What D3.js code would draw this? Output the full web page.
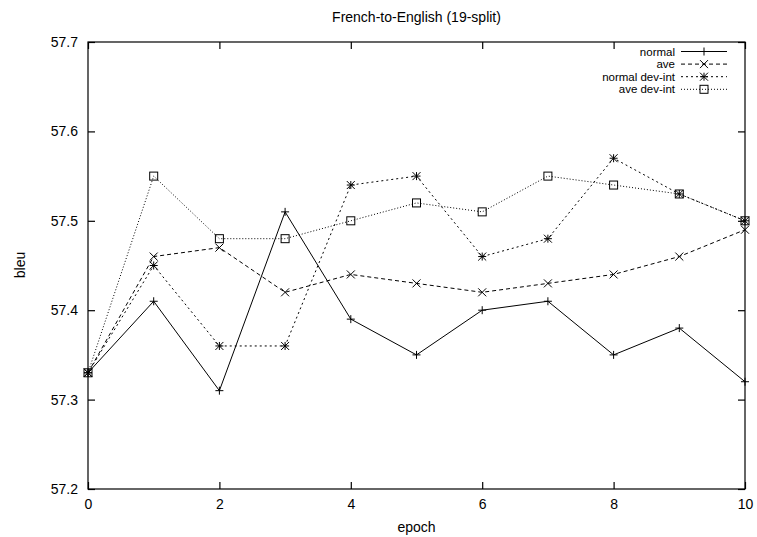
<!DOCTYPE html>
<html>
<head>
<meta charset="utf-8">
<script src="https://cdn.jsdelivr.net/npm/d3@7"></script>
<style>
  html, body { margin: 0; padding: 0; background: #fff; }
  svg { display: block; }
  text { font-family: "Liberation Sans", Arial, Helvetica, sans-serif; fill: #000; }
</style>
</head>
<body>
<svg id="chart" width="757" height="537"></svg>
<script>
const epochs = [0, 1, 2, 3, 4, 5, 6, 7, 8, 9, 10];
const normal      = [57.33, 57.41, 57.31, 57.51, 57.39, 57.35, 57.40, 57.41, 57.35, 57.38, 57.32];
const ave         = [57.33, 57.46, 57.47, 57.42, 57.44, 57.43, 57.42, 57.43, 57.44, 57.46, 57.49];
const normalDevInt= [57.33, 57.45, 57.36, 57.36, 57.54, 57.55, 57.46, 57.48, 57.57, 57.53, 57.50];
const aveDevInt   = [57.33, 57.55, 57.48, 57.48, 57.50, 57.52, 57.51, 57.55, 57.54, 57.53, 57.50];
const seriesNames = ["normal", "ave", "normal dev-int", "ave dev-int"];
const xTicks = [0, 2, 4, 6, 8, 10];
const yTicks = [57.2, 57.3, 57.4, 57.5, 57.6, 57.7];
const title = "French-to-English (19-split)";
const xLabel = "epoch";
const yLabel = "bleu";

const series = [
  { name: seriesNames[0], values: normal,       dash: null,    marker: "plus" },
  { name: seriesNames[1], values: ave,          dash: "4,3",   marker: "cross" },
  { name: seriesNames[2], values: normalDevInt, dash: "2,3",   marker: "star" },
  { name: seriesNames[3], values: aveDevInt,    dash: "1,2",   marker: "square" }
];

const svg = d3.select("#chart");
const L = 88, R = 745, T = 42, B = 489;
const x = d3.scaleLinear().domain([0, 10]).range([L, R]);
const y = d3.scaleLinear().domain([57.2, 57.7]).range([B, T]);
const fs = 14;
const tickLen = 7;

// Border box
svg.append("rect").attr("x", L).attr("y", T).attr("width", R - L).attr("height", B - T)
  .attr("fill", "none").attr("stroke", "#000").attr("stroke-width", 1.2);

// Axes (ticks inward, mirrored)
const gx = svg.append("g").attr("transform", `translate(0,${B})`)
  .call(d3.axisBottom(x).tickValues(xTicks).tickSizeInner(-tickLen).tickSizeOuter(0).tickPadding(10).tickFormat(d3.format("d")));
const gxt = svg.append("g").attr("transform", `translate(0,${T})`)
  .call(d3.axisTop(x).tickValues(xTicks).tickSizeInner(-tickLen).tickSizeOuter(0).tickFormat(""));
const gy = svg.append("g").attr("transform", `translate(${L},0)`)
  .call(d3.axisLeft(y).tickValues(yTicks).tickSizeInner(-tickLen).tickSizeOuter(0).tickPadding(10).tickFormat(d3.format(".1f")));
const gyr = svg.append("g").attr("transform", `translate(${R},0)`)
  .call(d3.axisRight(y).tickValues(yTicks).tickSizeInner(-tickLen).tickSizeOuter(0).tickFormat(""));
[gx, gxt, gy, gyr].forEach(g => {
  g.select(".domain").remove();
  g.selectAll("line").attr("stroke", "#000").attr("stroke-width", 1.2);
  g.selectAll("text").attr("font-size", fs).attr("font-family", "Liberation Sans, Arial, sans-serif").attr("fill", "#000");
});

// Titles
svg.append("text").attr("x", (L + R) / 2).attr("y", 22).attr("text-anchor", "middle")
  .attr("font-size", fs).text(title);
svg.append("text").attr("x", (L + R) / 2).attr("y", 532).attr("text-anchor", "middle")
  .attr("font-size", fs).text(xLabel);
svg.append("text").attr("transform", `translate(25,265) rotate(-90)`).attr("text-anchor", "middle")
  .attr("font-size", fs).text(yLabel);

function drawMarker(g, cx, cy, type) {
  const s = 4;
  const st = { stroke: "#000", "stroke-width": 1, fill: "none" };
  const add = (tag, attrs) => {
    const el = g.append(tag);
    Object.entries(Object.assign({}, st, attrs)).forEach(([k, v]) => el.attr(k, v));
  };
  if (type === "plus" || type === "star") {
    add("line", { x1: cx - s, y1: cy, x2: cx + s, y2: cy });
    add("line", { x1: cx, y1: cy - s, x2: cx, y2: cy + s });
  }
  if (type === "cross" || type === "star") {
    add("line", { x1: cx - s, y1: cy - s, x2: cx + s, y2: cy + s });
    add("line", { x1: cx - s, y1: cy + s, x2: cx + s, y2: cy - s });
  }
  if (type === "square") {
    add("rect", { x: cx - s, y: cy - s, width: 2 * s, height: 2 * s });
  }
}

const line = d3.line().x((d, i) => x(epochs[i])).y(d => y(d));
series.forEach(s => {
  svg.append("path").datum(s.values).attr("d", line)
    .attr("fill", "none").attr("stroke", "#000").attr("stroke-width", 1)
    .attr("stroke-dasharray", s.dash);
  const g = svg.append("g");
  s.values.forEach((v, i) => drawMarker(g, x(epochs[i]), y(v), s.marker));
});

// Legend
const legFs = 11.5, legY0 = 51.5, legDy = 12.6, legTextX = 675, legX1 = 681, legX2 = 727;
series.forEach((s, i) => {
  const yy = legY0 + i * legDy;
  svg.append("text").attr("x", legTextX).attr("y", yy).attr("dy", "0.35em")
    .attr("text-anchor", "end").attr("font-size", legFs).text(s.name);
  svg.append("line").attr("x1", legX1).attr("x2", legX2).attr("y1", yy).attr("y2", yy)
    .attr("stroke", "#000").attr("stroke-width", 1).attr("stroke-dasharray", s.dash);
  const g = svg.append("g");
  drawMarker(g, (legX1 + legX2) / 2, yy, s.marker);
});
</script>
</body>
</html>
